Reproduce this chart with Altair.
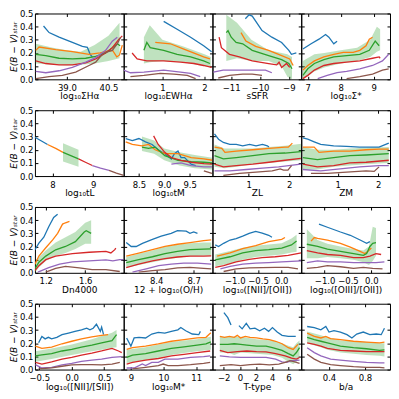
import altair as alt
import pandas as pd

COLORS = ["#1f77b4", "#ff7f0e", "#2ca02c", "#d62728", "#9467bd", "#8c564b"]
NAMES = ["blue", "orange", "green", "red", "purple", "brown"]
Y_TICKS = [0.0, 0.1, 0.2, 0.3, 0.4, 0.5]
Y_TITLE = "E(B − V)ₛₜₐᵣ"

# ---------- row 1 ----------
sha = {
    "blue": ([38.16, 38.36, 38.72, 39.2, 39.56, 39.74, 39.84, 39.92],
             [0.405, 0.355, 0.32, 0.28, 0.25, 0.243, 0.19, 0.17]),
    "orange": ([37.88, 38.0, 38.6, 39.2, 39.8, 40.2, 40.5, 40.65, 40.8, 40.9, 41.0],
               [0.22, 0.245, 0.225, 0.21, 0.19, 0.2, 0.215, 0.22, 0.17, 0.185, 0.26]),
    "green": ([37.88, 38.24, 38.72, 39.2, 39.68, 40.04, 40.4, 40.64, 40.82, 40.92],
              [0.19, 0.18, 0.16, 0.155, 0.16, 0.175, 0.2, 0.24, 0.27, 0.255]),
    "red": ([37.88, 38.24, 38.72, 39.2, 39.68, 40.04, 40.4, 40.64, 40.88, 41.0],
            [0.14, 0.12, 0.11, 0.11, 0.125, 0.155, 0.2, 0.24, 0.305, 0.33]),
    "purple": ([37.88, 38.24, 38.72, 39.2, 39.68, 40.04, 40.4, 40.64, 40.82],
               [0.06, 0.05, 0.065, 0.09, 0.13, 0.165, 0.22, 0.29, 0.32]),
    "brown": ([37.88, 38.36, 38.84, 39.32, 39.8, 40.04, 40.28, 40.4, 40.64, 40.82, 40.94],
              [0.005, 0.02, 0.03, 0.055, 0.105, 0.13, 0.19, 0.205, 0.22, 0.27, 0.32]),
}
sha_band = ([37.88, 38.5, 39.0, 39.5, 40.0, 40.5, 40.9],
            [0.12, 0.11, 0.105, 0.11, 0.12, 0.14, 0.16],
            [0.27, 0.24, 0.22, 0.21, 0.26, 0.33, 0.43])

ew = {
    "blue": ([1.03, 1.35, 1.67, 1.98, 2.17], [0.44, 0.38, 0.32, 0.255, 0.21]),
    "orange": ([0.83, 1.19, 1.51, 1.83, 1.98, 2.13], [0.28, 0.27, 0.23, 0.19, 0.17, 0.155]),
    "green": ([0.56, 0.63, 0.71, 1.03, 1.35, 1.67, 1.98, 2.13],
              [0.22, 0.28, 0.24, 0.22, 0.19, 0.17, 0.14, 0.12]),
    "red": ([0.28, 0.4, 0.63, 1.03, 1.43, 1.75, 1.98, 2.17],
            [0.2, 0.155, 0.14, 0.14, 0.13, 0.12, 0.105, 0.09]),
    "purple": ([0.08, 0.24, 0.56, 1.03, 1.43, 1.67, 1.9],
               [0.07, 0.05, 0.055, 0.07, 0.055, 0.045, 0.02]),
    "brown": ([0.24, 0.56, 0.95, 1.27, 1.59, 1.79], [0.02, 0.03, 0.045, 0.04, 0.03, 0.005]),
}
ew_band = ([0.56, 0.7, 1.0, 1.5, 2.0, 2.15],
           [0.12, 0.13, 0.14, 0.13, 0.1, 0.09],
           [0.32, 0.41, 0.3, 0.25, 0.19, 0.17])

ssfr = {
    "blue": ([-10.51, -10.38, -10.27, -9.93, -9.59, -9.25, -9.0, -8.91, -8.74],
             [0.46, 0.49, 0.48, 0.37, 0.32, 0.28, 0.22, 0.19, 0.2]),
    "orange": ([-10.66, -10.49, -10.15, -9.7, -9.25, -8.97, -8.85],
               [0.355, 0.29, 0.25, 0.22, 0.18, 0.155, 0.105]),
    "green": ([-11.17, -11.11, -11.0, -10.83, -10.6, -10.27, -9.7, -9.25, -9.0, -8.89],
              [0.355, 0.37, 0.32, 0.28, 0.27, 0.22, 0.18, 0.15, 0.12, 0.08]),
    "red": ([-11.42, -11.34, -11.06, -10.72, -10.27, -9.7, -9.42, -9.34, -9.25, -9.08, -8.97],
            [0.32, 0.24, 0.19, 0.17, 0.14, 0.12, 0.11, 0.13, 0.09, 0.12, 0.09]),
    "purple": ([-11.62, -11.28, -10.83, -10.27, -9.81, -9.59],
               [0.055, 0.07, 0.07, 0.07, 0.07, 0.05]),
    "brown": ([-11.45, -11.06, -10.6, -10.27, -9.93], [0.01, 0.03, 0.04, 0.04, 0.03]),
}
ssfr_band = ([-11.17, -10.8, -10.3, -9.7, -9.25, -9.05, -8.89],
             [0.14, 0.16, 0.14, 0.14, 0.1, 0.02, 0.0],
             [0.49, 0.43, 0.3, 0.22, 0.2, 0.19, 0.17])

smass = {
    "blue": ([6.85, 7.1, 7.34, 7.54, 7.64, 7.79, 7.89], [0.23, 0.27, 0.305, 0.34, 0.32, 0.27, 0.29]),
    "orange": ([6.85, 7.0, 7.2, 7.49, 7.79, 8.08, 8.38, 8.58, 8.77, 8.87, 8.97],
               [0.07, 0.105, 0.14, 0.17, 0.19, 0.205, 0.205, 0.22, 0.255, 0.305, 0.32]),
    "green": ([6.85, 7.0, 7.2, 7.49, 7.79, 8.18, 8.58, 8.87, 9.05, 9.17],
              [0.03, 0.08, 0.12, 0.15, 0.17, 0.18, 0.19, 0.22, 0.29, 0.255]),
    "red": ([6.85, 7.0, 7.2, 7.49, 7.79, 8.18, 8.58, 8.97, 9.17, 9.2],
            [0.005, 0.03, 0.07, 0.105, 0.12, 0.13, 0.14, 0.16, 0.17, 0.16]),
    "purple": ([7.3, 7.59, 7.89, 8.18, 8.58, 8.97, 9.27, 9.46],
               [0.005, 0.03, 0.05, 0.06, 0.08, 0.105, 0.14, 0.19]),
    "brown": ([8.18, 8.58, 8.97, 9.27, 9.46], [0.005, 0.02, 0.04, 0.07, 0.08]),
}
smass_band = ([6.85, 7.2, 7.5, 8.0, 8.5, 8.9, 9.1, 9.2],
              [0.0, 0.06, 0.09, 0.12, 0.14, 0.17, 0.21, 0.22],
              [0.14, 0.19, 0.2, 0.22, 0.24, 0.3, 0.4, 0.38])

# ---------- row 2 ----------
tl = {
    "blue": ([7.57, 7.72, 7.88], [0.295, 0.268, 0.24]),
    "orange": ([7.88, 8.08, 8.26], [0.24, 0.21, 0.18]),
    "green": ([8.26, 8.45, 8.64], [0.18, 0.155, 0.13]),
    "red": ([8.64, 8.81, 8.98], [0.13, 0.105, 0.08]),
    "purple": ([8.98, 9.18, 9.39], [0.08, 0.06, 0.043]),
    "brown": ([9.39, 9.57, 9.75], [0.043, 0.022, 0.005]),
}
tl_band = ([8.26, 8.64], [0.11, 0.07], [0.25, 0.2])

tm = {
    "blue": ([8.24, 8.37, 8.5, 8.63, 8.76, 8.88, 9.01, 9.14, 9.2, 9.27, 9.33, 9.4, 9.53, 9.62],
             [0.285, 0.27, 0.285, 0.26, 0.24, 0.2, 0.17, 0.13, 0.17, 0.19, 0.14, 0.14, 0.09, 0.08]),
    "orange": ([8.24, 8.37, 8.56, 8.69, 8.82, 9.01, 9.27, 9.53, 9.78, 9.95],
               [0.26, 0.24, 0.23, 0.24, 0.2, 0.17, 0.17, 0.14, 0.13, 0.12]),
    "green": ([8.56, 8.69, 8.82, 9.01, 9.27, 9.53, 9.78, 9.94],
              [0.22, 0.21, 0.22, 0.155, 0.12, 0.11, 0.105, 0.1]),
    "red": ([8.79, 8.88, 9.01, 9.14, 9.33, 9.53, 9.78, 9.94],
            [0.305, 0.24, 0.18, 0.14, 0.12, 0.105, 0.095, 0.09]),
    "purple": ([9.14, 9.33, 9.53, 9.78, 9.94], [0.09, 0.1, 0.08, 0.07, 0.07]),
    "brown": ([9.78, 9.94], [0.04, 0.02]),
}
tm_band = ([8.56, 8.8, 9.0, 9.3, 9.6, 9.95],
           [0.19, 0.17, 0.12, 0.08, 0.06, 0.05],
           [0.3, 0.27, 0.21, 0.18, 0.16, 0.14])

zl = {
    "blue": ([0.15, 0.25, 0.37, 0.53, 0.69, 0.85, 1.02, 1.18, 1.34, 1.46, 1.5],
             [0.32, 0.28, 0.255, 0.24, 0.24, 0.23, 0.24, 0.23, 0.24, 0.23, 0.22]),
    "orange": ([0.15, 0.33, 0.41, 0.69, 1.1, 1.5, 1.9, 1.98, 2.08],
               [0.22, 0.21, 0.18, 0.19, 0.2, 0.21, 0.22, 0.22, 0.25]),
    "green": ([0.15, 0.37, 0.69, 1.1, 1.5, 1.9, 2.29], [0.155, 0.13, 0.14, 0.155, 0.17, 0.175, 0.185]),
    "red": ([0.15, 0.37, 0.69, 1.1, 1.5, 1.9, 2.29], [0.09, 0.07, 0.08, 0.09, 0.105, 0.12, 0.135]),
    "purple": ([0.15, 0.53, 0.94, 1.34, 1.74, 2.29], [0.04, 0.04, 0.05, 0.06, 0.07, 0.09]),
    "brown": ([0.37, 0.77, 1.18, 1.58, 1.78, 1.86, 1.97, 2.06],
              [0.005, 0.02, 0.03, 0.04, 0.055, 0.045, 0.045, 0.08]),
}
zl_band = ([0.15, 0.4, 0.7, 1.1, 1.5, 1.9, 2.3],
           [0.07, 0.06, 0.07, 0.09, 0.1, 0.11, 0.12],
           [0.24, 0.21, 0.21, 0.21, 0.22, 0.23, 0.245])

zm = {
    "blue": ([0.14, 0.26, 0.42, 0.58, 0.9, 1.22, 1.54, 1.86, 2.02, 2.26],
             [0.29, 0.28, 0.26, 0.24, 0.23, 0.225, 0.22, 0.22, 0.22, 0.25]),
    "orange": ([0.14, 0.42, 0.54, 0.9, 1.3, 1.7, 2.02, 2.26],
               [0.22, 0.22, 0.18, 0.19, 0.19, 0.2, 0.205, 0.205]),
    "green": ([0.14, 0.5, 0.9, 1.3, 1.7, 2.26], [0.14, 0.125, 0.14, 0.155, 0.16, 0.17]),
    "red": ([0.14, 0.5, 0.9, 1.3, 1.7, 2.26], [0.09, 0.07, 0.08, 0.1, 0.105, 0.12]),
    "purple": ([0.14, 0.58, 1.06, 1.54, 2.02, 2.26], [0.05, 0.04, 0.055, 0.07, 0.08, 0.08]),
    "brown": ([0.34, 0.74, 1.22, 1.7, 1.9, 2.02], [0.02, 0.02, 0.03, 0.04, 0.035, 0.07]),
}
zm_band = ([0.14, 0.5, 0.9, 1.3, 1.7, 2.26],
           [0.05, 0.05, 0.07, 0.08, 0.09, 0.1],
           [0.22, 0.2, 0.2, 0.21, 0.215, 0.22])

# ---------- row 3 ----------
dn = {
    "blue": ([1.09, 1.13, 1.18, 1.23, 1.28, 1.32], [0.175, 0.225, 0.27, 0.35, 0.42, 0.445]),
    "orange": ([1.09, 1.13, 1.2, 1.27, 1.32, 1.37, 1.4, 1.44],
               [0.065, 0.127, 0.19, 0.25, 0.3, 0.37, 0.38, 0.39]),
    "green": ([1.09, 1.13, 1.2, 1.3, 1.4, 1.5, 1.59, 1.61, 1.66],
              [0.03, 0.08, 0.127, 0.175, 0.2, 0.237, 0.31, 0.32, 0.3]),
    "red": ([1.09, 1.13, 1.2, 1.3, 1.47, 1.64, 1.81, 1.86, 1.9, 1.91],
            [0.017, 0.054, 0.1, 0.127, 0.146, 0.156, 0.163, 0.151, 0.176, 0.188]),
    "purple": ([1.12, 1.23, 1.34, 1.47, 1.64, 1.81, 1.88, 1.95, 1.99],
               [0.005, 0.04, 0.066, 0.083, 0.09, 0.098, 0.09, 0.1, 0.1]),
    "brown": ([1.2, 1.3, 1.4, 1.54, 1.67, 1.81, 1.95], [0.005, 0.034, 0.049, 0.037, 0.024, 0.024, 0.01]),
}
dn_band = ([1.09, 1.13, 1.2, 1.3, 1.4, 1.5, 1.6, 1.66],
           [0.0, 0.04, 0.09, 0.13, 0.15, 0.18, 0.22, 0.22],
           [0.06, 0.12, 0.17, 0.23, 0.27, 0.31, 0.38, 0.4])

oh = {
    "blue": ([8.16, 8.2, 8.24, 8.29, 8.37, 8.44, 8.52, 8.57, 8.64, 8.67, 8.7, 8.73],
             [0.23, 0.2, 0.2, 0.224, 0.254, 0.278, 0.3, 0.32, 0.317, 0.3, 0.31, 0.3]),
    "orange": ([8.16, 8.26, 8.37, 8.47, 8.57, 8.67, 8.78, 8.84],
               [0.127, 0.15, 0.176, 0.2, 0.217, 0.23, 0.244, 0.25]),
    "green": ([8.16, 8.26, 8.37, 8.47, 8.57, 8.67, 8.78, 8.84],
              [0.078, 0.1, 0.122, 0.146, 0.163, 0.176, 0.18, 0.182]),
    "red": ([8.16, 8.26, 8.37, 8.47, 8.57, 8.67, 8.78, 8.84],
            [0.04, 0.066, 0.09, 0.107, 0.12, 0.127, 0.127, 0.128]),
    "purple": ([8.21, 8.32, 8.42, 8.52, 8.62, 8.73, 8.84],
               [0.005, 0.03, 0.054, 0.066, 0.073, 0.073, 0.066]),
    "brown": ([8.26, 8.37, 8.47, 8.57, 8.67, 8.78, 8.84],
              [0.005, 0.017, 0.024, 0.037, 0.041, 0.034, 0.03]),
}
oh_band = ([8.16, 8.26, 8.37, 8.47, 8.57, 8.67, 8.78, 8.84],
           [0.04, 0.06, 0.08, 0.1, 0.115, 0.125, 0.13, 0.13],
           [0.12, 0.145, 0.17, 0.2, 0.215, 0.225, 0.23, 0.23])

n2o2 = {
    "blue": ([-1.42, -1.35, -1.24, -1.1, -0.97, -0.83, -0.69, -0.55, -0.41, -0.27, -0.2],
             [0.212, 0.2, 0.224, 0.249, 0.26, 0.278, 0.3, 0.315, 0.302, 0.285, 0.27]),
    "orange": ([-1.38, -1.1, -0.83, -0.55, -0.27, 0.01, 0.08],
               [0.127, 0.151, 0.183, 0.207, 0.237, 0.254, 0.268]),
    "green": ([-1.42, -1.1, -0.83, -0.55, -0.27, 0.01, 0.22, 0.33],
              [0.098, 0.122, 0.151, 0.168, 0.176, 0.188, 0.212, 0.241]),
    "red": ([-1.42, -1.24, -0.97, -0.69, -0.41, -0.13, 0.15, 0.43],
            [0.041, 0.054, 0.083, 0.102, 0.115, 0.122, 0.132, 0.151]),
    "purple": ([-1.31, -1.1, -0.83, -0.55, -0.27, 0.01, 0.43],
               [0.03, 0.049, 0.066, 0.073, 0.078, 0.083, 0.09]),
    "brown": ([-1.24, -0.97, -0.69, -0.41, -0.13, 0.15, 0.36],
              [0.01, 0.03, 0.037, 0.039, 0.041, 0.041, 0.03]),
}
n2o2_band = ([-1.42, -1.1, -0.83, -0.55, -0.27, 0.01, 0.22, 0.33],
             [0.05, 0.07, 0.1, 0.12, 0.13, 0.14, 0.155, 0.16],
             [0.14, 0.165, 0.19, 0.205, 0.215, 0.225, 0.26, 0.29])

o3o2 = {
    "blue": ([-1.12, -0.94, -0.66, -0.45, -0.24, -0.1, -0.03],
             [0.37, 0.346, 0.31, 0.285, 0.249, 0.224, 0.237]),
    "orange": ([-1.29, -1.22, -1.15, -0.94, -0.66, -0.45, -0.24, -0.14, -0.07, 0.0],
               [0.241, 0.268, 0.261, 0.249, 0.224, 0.195, 0.163, 0.146, 0.163, 0.188]),
    "green": ([-1.38, -1.15, -0.94, -0.66, -0.38, -0.17, -0.1, -0.03, 0.03, 0.1],
              [0.217, 0.2, 0.18, 0.163, 0.146, 0.132, 0.146, 0.2, 0.224, 0.229]),
    "red": ([-1.38, -1.15, -0.94, -0.66, -0.38, -0.17, -0.03, 0.1, 0.21],
            [0.168, 0.151, 0.139, 0.132, 0.115, 0.115, 0.127, 0.146, 0.139]),
    "purple": ([-1.38, -1.15, -0.94, -0.66, -0.38, -0.1, 0.1, 0.28],
               [0.078, 0.09, 0.083, 0.083, 0.078, 0.078, 0.078, 0.083]),
    "brown": ([-1.38, -1.15, -0.94, -0.66, -0.38, -0.17, 0.03, 0.24],
              [0.034, 0.041, 0.054, 0.046, 0.034, 0.041, 0.034, 0.03]),
}
o3o2_band = ([-1.38, -1.15, -0.94, -0.66, -0.38, -0.17, -0.05, 0.03, 0.1],
             [0.11, 0.11, 0.12, 0.11, 0.1, 0.08, 0.06, 0.09, 0.13],
             [0.33, 0.25, 0.22, 0.2, 0.18, 0.17, 0.2, 0.35, 0.34])

# ---------- row 4 ----------
n2s2 = {
    "blue": ([-0.51, -0.46, -0.41, -0.36, -0.31, -0.23, -0.15, -0.05, 0.05, 0.15, 0.23, 0.28, 0.33, 0.38, 0.44, 0.46, 0.49],
             [0.203, 0.252, 0.233, 0.245, 0.233, 0.245, 0.265, 0.277, 0.29, 0.302, 0.314, 0.302, 0.314, 0.344, 0.29, 0.322, 0.265]),
    "orange": ([-0.56, -0.46, -0.31, -0.15, 0.0, 0.15, 0.31, 0.46, 0.56],
               [0.178, 0.161, 0.171, 0.196, 0.215, 0.233, 0.248, 0.26, 0.265]),
    "green": ([-0.56, -0.46, -0.31, -0.15, 0.0, 0.15, 0.31, 0.46, 0.62, 0.69],
              [0.104, 0.111, 0.121, 0.141, 0.153, 0.171, 0.186, 0.203, 0.22, 0.265]),
    "red": ([-0.56, -0.46, -0.31, -0.15, 0.0, 0.15, 0.31, 0.46, 0.62, 0.72, 0.77],
            [0.054, 0.042, 0.059, 0.079, 0.092, 0.109, 0.124, 0.141, 0.161, 0.141, 0.129]),
    "purple": ([-0.56, -0.46, -0.31, -0.15, 0.0, 0.15, 0.31, 0.46, 0.62, 0.77],
               [0.037, 0.012, 0.017, 0.035, 0.047, 0.062, 0.072, 0.079, 0.092, 0.099]),
    "brown": ([-0.51, -0.31, -0.15, 0.0, 0.15, 0.31, 0.46, 0.62, 0.74],
              [0.005, 0.012, 0.025, 0.035, 0.037, 0.037, 0.035, 0.042, 0.054]),
}
n2s2_band = ([-0.56, -0.31, 0.0, 0.31, 0.46, 0.62, 0.69],
             [0.06, 0.08, 0.11, 0.14, 0.15, 0.165, 0.17],
             [0.14, 0.16, 0.19, 0.23, 0.255, 0.28, 0.3])

mstar = {
    "blue": ([8.87, 9.0, 9.1, 9.25, 9.45, 9.64, 9.84, 10.04, 10.24, 10.44, 10.53, 10.68, 10.88, 11.08, 11.13],
             [0.24, 0.178, 0.24, 0.245, 0.24, 0.27, 0.282, 0.277, 0.29, 0.302, 0.319, 0.295, 0.27, 0.265, 0.29]),
    "orange": ([8.87, 9.05, 9.45, 9.84, 10.24, 10.63, 11.03, 11.3, 11.45],
               [0.153, 0.166, 0.178, 0.195, 0.215, 0.228, 0.24, 0.245, 0.28]),
    "green": ([8.87, 9.05, 9.45, 9.84, 10.24, 10.63, 11.03, 11.3, 11.45],
              [0.092, 0.109, 0.121, 0.141, 0.161, 0.173, 0.186, 0.195, 0.21]),
    "red": ([8.87, 9.05, 9.45, 9.84, 10.24, 10.63, 11.03, 11.43],
            [0.042, 0.054, 0.072, 0.084, 0.104, 0.116, 0.129, 0.141]),
    "purple": ([8.87, 9.1, 9.35, 9.45, 9.64, 9.84, 10.04, 10.44, 10.83, 11.23, 11.43],
               [0.012, 0.012, 0.042, 0.03, 0.054, 0.054, 0.079, 0.079, 0.092, 0.099, 0.104]),
    "brown": ([9.05, 9.45, 9.84, 9.99, 10.14, 10.44, 10.83, 11.23, 11.43],
              [0.005, 0.017, 0.03, 0.042, 0.03, 0.03, 0.037, 0.047, 0.054]),
}
mstar_band = ([8.87, 9.45, 9.84, 10.24, 10.63, 11.03, 11.45],
              [0.05, 0.07, 0.09, 0.11, 0.125, 0.14, 0.15],
              [0.15, 0.17, 0.19, 0.21, 0.22, 0.23, 0.25])

ttype = {
    "blue": ([-1.98, -1.5, -1.1], [0.433, 0.394, 0.339]),
    "blue ": ([-0.12, 0.28, 0.79, 1.26, 1.86, 2.45, 3.04, 3.56, 4.03, 4.62, 5.22, 6.0, 6.92],
              [0.334, 0.309, 0.351, 0.309, 0.314, 0.295, 0.314, 0.29, 0.319, 0.285, 0.26, 0.252, 0.252]),
    "orange": ([-2.49, -1.9, -1.3, -0.71, -0.32, 0.08, 0.67, 1.26, 2.06, 2.85, 3.64, 4.43, 5.22, 6.0, 6.6, 7.19],
               [0.252, 0.245, 0.252, 0.245, 0.26, 0.24, 0.252, 0.245, 0.24, 0.233, 0.228, 0.215, 0.196, 0.166, 0.153, 0.191]),
    "green": ([-2.49, -1.5, -0.71, 0.08, 0.87, 2.06, 3.24, 4.03, 5.22, 6.0, 6.6, 7.0, 7.39],
              [0.191, 0.191, 0.196, 0.191, 0.186, 0.178, 0.178, 0.166, 0.146, 0.121, 0.104, 0.129, 0.166]),
    "red": ([-2.49, -1.5, -0.32, 0.87, 2.06, 3.24, 4.43, 5.61, 6.4, 7.0, 7.39],
            [0.146, 0.129, 0.136, 0.141, 0.136, 0.134, 0.121, 0.104, 0.087, 0.079, 0.092]),
    "purple": ([-2.49, -1.3, 0.08, 1.66, 3.24, 4.43, 5.22, 5.81, 6.4, 7.39],
               [0.104, 0.097, 0.092, 0.092, 0.092, 0.079, 0.059, 0.054, 0.067, 0.072]),
    "brown": ([-2.49, -1.1, 0.08, 1.26, 2.45, 3.64, 4.82, 5.61, 6.2, 6.8, 7.39],
              [0.03, 0.037, 0.03, 0.037, 0.042, 0.035, 0.042, 0.054, 0.067, 0.059, 0.047]),
}
ttype_band = ([-2.49, -1.5, -0.7, 0.08, 2.06, 4.03, 5.22, 6.0, 6.6, 7.0, 7.39],
              [0.13, 0.13, 0.11, 0.13, 0.12, 0.11, 0.09, 0.06, 0.04, 0.06, 0.09],
              [0.25, 0.25, 0.25, 0.25, 0.23, 0.22, 0.2, 0.18, 0.17, 0.2, 0.22])

ba = {
    "blue": ([0.156, 0.236, 0.309, 0.364, 0.4, 0.455, 0.527, 0.6, 0.655, 0.709, 0.782, 0.855, 0.927, 0.982, 1.018],
             [0.327, 0.319, 0.302, 0.327, 0.285, 0.295, 0.285, 0.265, 0.24, 0.27, 0.285, 0.265, 0.27, 0.265, 0.314]),
    "orange": ([0.156, 0.236, 0.309, 0.364, 0.418, 0.527, 0.673, 0.818, 0.964, 1.018],
               [0.277, 0.252, 0.24, 0.252, 0.235, 0.228, 0.215, 0.208, 0.203, 0.208]),
    "green": ([0.156, 0.236, 0.309, 0.382, 0.527, 0.673, 0.818, 0.964, 1.018],
              [0.245, 0.228, 0.215, 0.203, 0.178, 0.166, 0.158, 0.146, 0.149]),
    "red": ([0.156, 0.236, 0.309, 0.382, 0.527, 0.673, 0.818, 0.964, 1.018],
            [0.203, 0.191, 0.178, 0.161, 0.146, 0.141, 0.136, 0.136, 0.136]),
    "purple": ([0.156, 0.236, 0.309, 0.418, 0.527, 0.673, 0.818, 0.964, 1.018],
               [0.166, 0.129, 0.104, 0.079, 0.072, 0.062, 0.054, 0.05, 0.05]),
    "brown": ([0.156, 0.236, 0.309, 0.418, 0.527, 0.673, 0.818, 0.964, 1.018],
              [0.116, 0.079, 0.054, 0.037, 0.03, 0.022, 0.017, 0.017, 0.012]),
}
ba_band = ([0.156, 0.309, 0.382, 0.527, 0.673, 0.818, 0.964, 1.018],
           [0.2, 0.17, 0.15, 0.13, 0.12, 0.11, 0.105, 0.1],
           [0.29, 0.26, 0.245, 0.22, 0.215, 0.21, 0.2, 0.2])

PANELS = [
    (sha, sha_band, [37.85, 41.05], [39.0, 40.5], ".1f", "log₁₀ΣHα"),
    (ew, ew_band, [0.08, 2.19], [1, 2], "d", "log₁₀EWHα"),
    (ssfr, ssfr_band, [-11.65, -8.57], [-11, -10, -9], "d", "sSFR"),
    (smass, smass_band, [6.8, 9.5], [7, 8, 9], "d", "log₁₀Σ*"),
    (tl, tl_band, [7.57, 9.75], [8, 9], "d", "log₁₀tL"),
    (tm, tm_band, [8.2, 9.95], [8.5, 9.0, 9.5], ".1f", "log₁₀tM"),
    (zl, zl_band, [0.1, 2.3], [1, 2], "d", "ZL"),
    (zm, zm_band, [0.1, 2.29], [1, 2], "d", "ZM"),
    (dn, dn_band, [1.09, 1.99], [1.2, 1.6], ".1f", "Dn4000"),
    (oh, oh_band, [8.14, 8.85], [8.4, 8.7], ".1f", "12 + log₁₀(O/H)"),
    (n2o2, n2o2_band, [-1.48, 0.43], [-1.0, -0.5, 0.0], ".1f", "log₁₀([NII]/[OII])"),
    (o3o2, o3o2_band, [-1.5, 0.4], [-1.0, -0.5, 0.0], ".1f", "log₁₀([OIII]/[OII])"),
    (n2s2, n2s2_band, [-0.567, 0.8], [-0.5, 0.0, 0.5], ".1f", "log₁₀([NII]/[SII])"),
    (mstar, mstar_band, [8.78, 11.5], [9, 10, 11], "d", "log₁₀M*"),
    (ttype, ttype_band, [-3.4, 7.6], [-2, 0, 2, 4, 6], "d", "T-type"),
    (ba, ba_band, [0.09, 1.08], [0.4, 0.8], ".1f", "b/a"),
]

W, H = 89, 66


def inner_axis(orient, values, **kw):
    return alt.Axis(orient=orient, values=values, offset=-3, tickSize=3, domain=False,
                    grid=False, **kw)


def make_panel(lines, band, domain, ticks, fmt, title, first):
    rows = []
    for key, (xs, ys) in lines.items():
        for x, y in zip(xs, ys):
            rows.append({"x": x, "y": y, "c": key.strip(), "seg": key})
    ldf = pd.DataFrame(rows)
    bdf = pd.DataFrame({"x": band[0], "lo": band[1], "hi": band[2]})
    xs = alt.Scale(domain=domain, nice=False, zero=False)
    ys = alt.Scale(domain=[0, 0.5], nice=False, zero=False)
    xaxis = inner_axis("bottom", ticks, format=fmt, title=title, labelPadding=4,
                       titlePadding=0, labelFlush=False)
    if first:
        yaxis = inner_axis("left", Y_TICKS, format=".1f", title=Y_TITLE, labelPadding=2,
                           titlePadding=1, titleFontStyle="italic", labelFlush=False)
    else:
        yaxis = inner_axis("left", Y_TICKS, labels=False, title=None)
    area = alt.Chart(bdf).mark_area(color="#2ca02c", opacity=0.3, clip=True).encode(
        x=alt.X("x:Q", scale=xs, axis=xaxis),
        y=alt.Y("lo:Q", scale=ys, axis=yaxis),
        y2="hi:Q",
    )
    line = alt.Chart(ldf).mark_line(strokeWidth=1.3, clip=True).encode(
        x=alt.X("x:Q", scale=xs, axis=None),
        y=alt.Y("y:Q", scale=ys, axis=None),
        color=alt.Color("c:N", scale=alt.Scale(domain=NAMES, range=COLORS), legend=None),
        detail="seg:N",
    )
    frame = alt.Chart(bdf).mark_area(opacity=0, clip=True).encode(
        x=alt.X("x:Q", scale=xs, axis=inner_axis("top", ticks, labels=False, title=None)),
        y=alt.Y("lo:Q", scale=ys, axis=inner_axis("right", Y_TICKS, labels=False, title=None)),
        y2="hi:Q",
    )
    return alt.layer(area, line, frame).resolve_axis(
        x="independent", y="independent"
    ).properties(width=W, height=H)


panels = [make_panel(*p, first=(i % 4 == 0)) for i, p in enumerate(PANELS)]

chart = alt.concat(*panels, columns=4, spacing={"row": 31, "column": 0}, bounds="flush").properties(
    padding={"left": 0, "top": 0, "right": 0, "bottom": 0}
).configure(font="DejaVu Sans").configure_view(
    stroke="black", strokeWidth=1
).configure_axis(
    labelFontSize=8.5, titleFontSize=9, labelColor="black", titleColor="black",
    tickColor="black", titleFontWeight="normal", labelFont="DejaVu Sans", titleFont="DejaVu Sans"
)

chart.save("out.html", embed_options={"renderer": "svg", "actions": False})
